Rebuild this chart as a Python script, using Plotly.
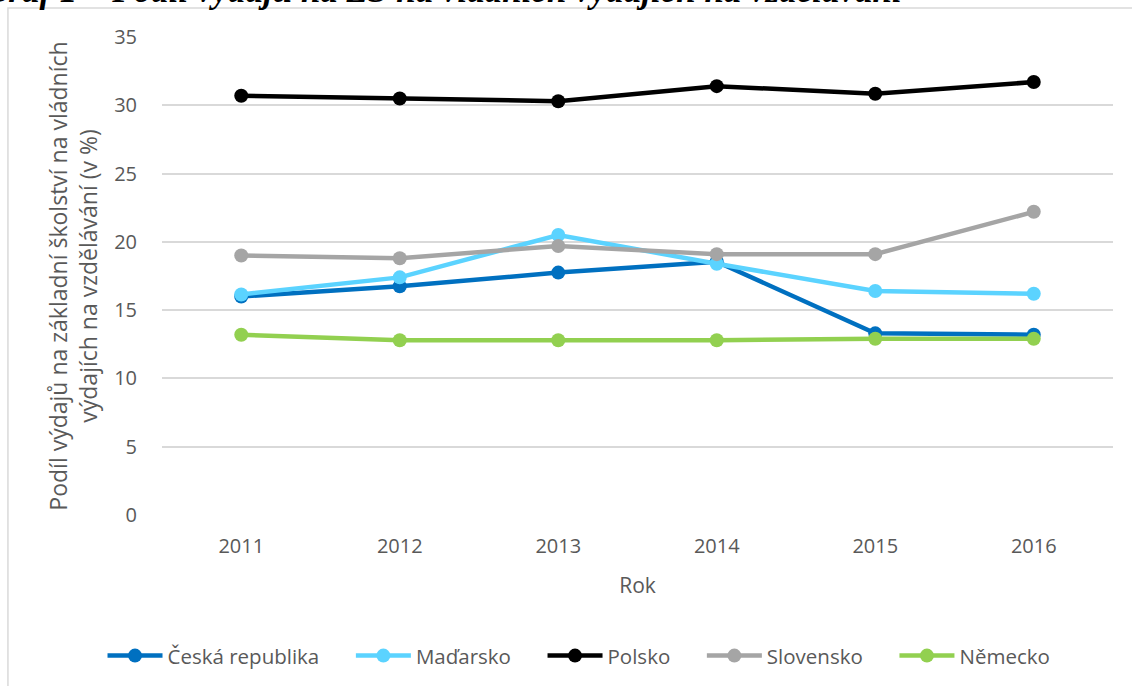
import plotly.graph_objs as go

years = ["2011", "2012", "2013", "2014", "2015", "2016"]

ceska = [16.0, 16.75, 17.75, 18.55, 13.3, 13.2]
madarsko = [16.15, 17.4, 20.5, 18.4, 16.4, 16.2]
polsko = [30.7, 30.5, 30.3, 31.4, 30.85, 31.7]
slovensko = [19.0, 18.8, 19.7, 19.1, 19.1, 22.2]
nemecko = [13.2, 12.8, 12.8, 12.8, 12.9, 12.9]

series = [
    ("Česká republika", ceska, "#0070C0"),
    ("Maďarsko", madarsko, "#5BD3FF"),
    ("Polsko", polsko, "#000000"),
    ("Slovensko", slovensko, "#A5A5A5"),
    ("Německo", nemecko, "#92D050"),
]

font_name = "Open Sans"
text_gray = "#595959"

fig = go.Figure()
for i, (name, vals, color) in enumerate(series):
    # a little trailing space widens the gap between legend entries, like the original
    label = name if i == len(series) - 1 else name + "\u00a0" * 5
    fig.add_trace(go.Scatter(
        x=years, y=vals, name=label, mode="lines+markers",
        line=dict(color=color, width=4.5),
        marker=dict(color=color, size=14),
    ))

fig.update_layout(
    width=1132, height=686,
    margin=dict(l=162, r=19, t=37, b=170),
    paper_bgcolor="white", plot_bgcolor="white",
    font=dict(family=font_name, size=20, color=text_gray),
    showlegend=True,
    legend=dict(
        orientation="h", x=0.4385, xanchor="center", y=-0.25, yanchor="top",
        font=dict(family=font_name, size=20.5, color=text_gray),
        itemwidth=55, tracegroupgap=0,
    ),
    xaxis=dict(
        type="category", range=[-0.5, 5.5],
        showgrid=False, showline=False, zeroline=False, ticks="",
        ticklabelstandoff=17,
        tickfont=dict(size=20, color=text_gray),
        title=dict(text="Rok", font=dict(size=21, color=text_gray), standoff=20),
    ),
    yaxis=dict(
        range=[0, 35], dtick=5, showgrid=True, gridcolor="#D9D9D9", gridwidth=1.5,
        zeroline=False, showline=False, ticks="",
        ticklabelstandoff=24,
        tickfont=dict(size=20, color=text_gray),
        title=dict(text="Podíl výdajů na základní školství na vládních<br>výdajích na vzdělávání (v %)",
                   font=dict(size=23, color=text_gray), standoff=10),
    ),
    shapes=[dict(
        type="rect", xref="paper", yref="paper",
        x0=-0.162, x1=1.2, y0=-0.5, y1=1.0605,
        line=dict(color="#D9D9D9", width=1.5), fillcolor="rgba(0,0,0,0)", layer="below",
    )],
    annotations=[dict(
        text="<b><i>Graf 1 – Podíl výdajů na ZŠ na vládních výdajích na vzdělávání</i></b>",
        xref="paper", yref="paper", x=0.783, xanchor="right",
        y=1.0532, yanchor="bottom", showarrow=False,
        font=dict(family="Liberation Serif", size=35, color="#000000"),
    )],
)

# page body margin set to 0 so the figure sits at the window's top-left corner
fig.write_html("out.html", config={"displayModeBar": False},
               post_script="document.body.style.margin='0';")
